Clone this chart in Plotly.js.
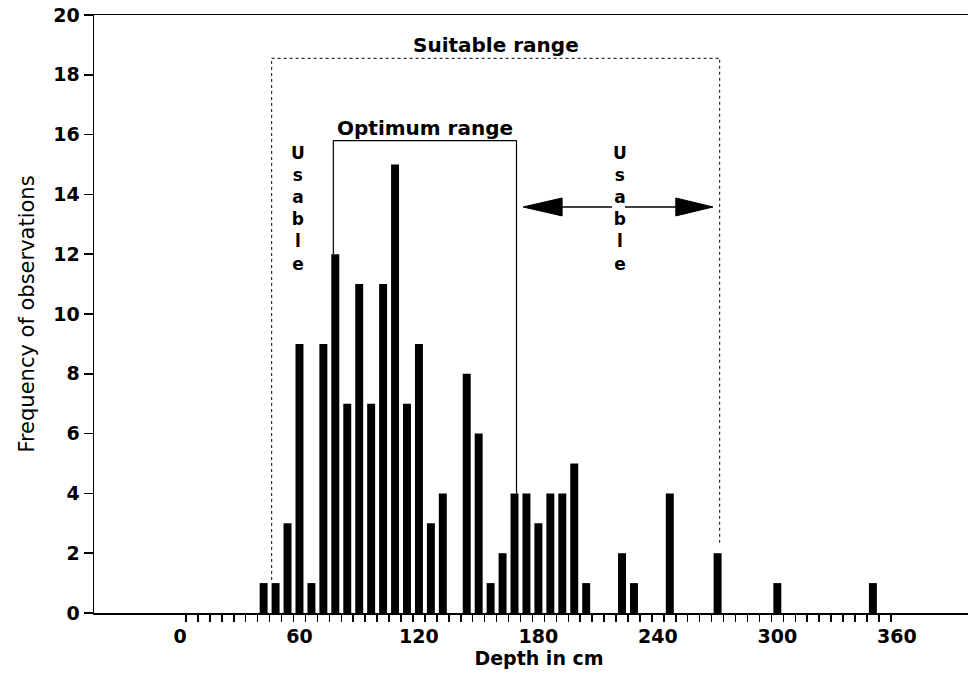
<!DOCTYPE html>
<html>
<head>
<meta charset="utf-8">
<script src="https://cdn.plot.ly/plotly-3.0.1.min.js"></script>
<style>
  html, body { margin: 0; padding: 0; background: #fff; overflow: hidden; }
  #chart { width: 984px; height: 673px; }
</style>
</head>
<body>
<div id="chart"></div>
<script>
// ---- Data ----
const depthCm = [42, 48, 54, 60, 66, 72, 78, 84, 90, 96, 102, 108, 114, 120, 126, 132,
                 144, 150, 156, 162, 168, 174, 180, 186, 192, 198, 204,
                 222, 228, 246, 270, 300, 348];
const frequency = [1, 1, 3, 9, 1, 9, 12, 7, 11, 7, 11, 15, 7, 9, 3, 4,
                   8, 6, 1, 2, 4, 4, 3, 4, 4, 5, 1,
                   2, 1, 4, 2, 1, 1];
const xTickVals = [0, 60, 120, 180, 240, 300, 360];
const xTickText = ['0', '60', '120', '180', '240', '300', '360'];
const yTickVals = [0, 2, 4, 6, 8, 10, 12, 14, 16, 18, 20];

// Range annotations (depths in cm, heights in frequency units)
const suitableRange = [46, 271];
const optimumRange = [77, 169];
const suitableLabel = 'Suitable range';
const optimumLabel = 'Optimum range';
const usableLabel = 'Usable';

// ---- Layout helpers ----
const minorTickVals = [];
for (let v = 3; v <= 357; v += 6) minorTickVals.push(v);

const FONT = 'DejaVu Sans';
const boldFont = (size) => ({family: FONT, size: size, color: '#000', weight: 'bold'});

const SUIT_TOP = 18.55, OPT_TOP = 15.8;
const ARROW_Y = 13.58, HEAD_H = 0.3;
const leftArrow = {tip: 172.3, base: 191.9, tail: 217};
const rightArrow = {tail: 223.5, base: 249, tip: 267.7};

const trace = {
  type: 'bar',
  x: depthCm,
  y: frequency,
  marker: {color: '#000', line: {width: 0}},
  hoverinfo: 'x+y'
};

const dotted = {color: '#333', width: 1.2, dash: 'dot'};
const solid = {color: '#000', width: 1.2};
const shapes = [
  // Suitable range bracket (dotted)
  {type: 'line', xref: 'x', yref: 'y', x0: suitableRange[0], x1: suitableRange[0], y0: 1.1, y1: SUIT_TOP, line: dotted},
  {type: 'line', xref: 'x', yref: 'y', x0: suitableRange[1], x1: suitableRange[1], y0: 2.35, y1: SUIT_TOP, line: dotted},
  {type: 'line', xref: 'x', yref: 'y', x0: suitableRange[0], x1: suitableRange[1], y0: SUIT_TOP, y1: SUIT_TOP, line: dotted},
  // Optimum range bracket (solid)
  {type: 'line', xref: 'x', yref: 'y', x0: optimumRange[0], x1: optimumRange[0], y0: 12, y1: OPT_TOP, line: solid},
  {type: 'line', xref: 'x', yref: 'y', x0: optimumRange[1], x1: optimumRange[1], y0: 4, y1: OPT_TOP, line: solid},
  {type: 'line', xref: 'x', yref: 'y', x0: optimumRange[0], x1: optimumRange[1], y0: OPT_TOP, y1: OPT_TOP, line: solid},
  // Usable arrows
  {type: 'line', xref: 'x', yref: 'y', x0: leftArrow.base, x1: leftArrow.tail, y0: ARROW_Y, y1: ARROW_Y, line: {color: '#000', width: 1.5}},
  {type: 'path', xref: 'x', yref: 'y',
   path: `M ${leftArrow.tip},${ARROW_Y} L ${leftArrow.base},${ARROW_Y + HEAD_H} L ${leftArrow.base},${ARROW_Y - HEAD_H} Z`,
   fillcolor: '#000', line: {color: '#000', width: 1}},
  {type: 'line', xref: 'x', yref: 'y', x0: rightArrow.tail, x1: rightArrow.base, y0: ARROW_Y, y1: ARROW_Y, line: {color: '#000', width: 1.5}},
  {type: 'path', xref: 'x', yref: 'y',
   path: `M ${rightArrow.tip},${ARROW_Y} L ${rightArrow.base},${ARROW_Y + HEAD_H} L ${rightArrow.base},${ARROW_Y - HEAD_H} Z`,
   fillcolor: '#000', line: {color: '#000', width: 1}}
];

const stacked = (word) => word.split('').join('<br>');

const annotations = [
  {xref: 'x', yref: 'y', x: (suitableRange[0] + suitableRange[1]) / 2, y: 19.0, text: suitableLabel,
   showarrow: false, font: boldFont(20), xanchor: 'center', yanchor: 'middle'},
  {xref: 'x', yref: 'y', x: (optimumRange[0] + optimumRange[1]) / 2, y: 16.23, text: optimumLabel,
   showarrow: false, font: boldFont(20), xanchor: 'center', yanchor: 'middle'},
  {xref: 'x', yref: 'y', x: 59.5, y: 15.8, text: stacked(usableLabel),
   showarrow: false, font: boldFont(17), xanchor: 'center', yanchor: 'top'},
  {xref: 'x', yref: 'y', x: 221, y: 15.8, text: stacked(usableLabel),
   showarrow: false, font: boldFont(17), xanchor: 'center', yanchor: 'top'}
];

const layout = {
  width: 984,
  height: 673,
  margin: {l: 94, r: 0, t: 15, b: 60, pad: 0},
  paper_bgcolor: '#fff',
  plot_bgcolor: '#fff',
  bargap: 1 / 3,
  showlegend: false,
  xaxis: {
    range: [-43.2, 403.8],
    showline: true, linecolor: '#000', linewidth: 1.5, mirror: true,
    showgrid: false, zeroline: false,
    tickmode: 'array', tickvals: xTickVals, ticktext: xTickText,
    ticks: 'outside', ticklen: 6, tickcolor: 'rgba(0,0,0,0)',
    tickfont: boldFont(19),
    minor: {tickmode: 'array', tickvals: minorTickVals, ticks: 'outside', ticklen: 7,
            tickwidth: 1.5, tickcolor: '#000', showgrid: false},
    title: {text: 'Depth in cm', font: boldFont(19), standoff: 4}
  },
  yaxis: {
    range: [0, 20],
    showline: true, linecolor: '#000', linewidth: 1.5, mirror: false,
    showgrid: false, zeroline: false,
    tickmode: 'array', tickvals: yTickVals,
    ticks: 'outside', ticklen: 9, tickwidth: 1.5, tickcolor: '#000',
    tickfont: boldFont(19),
    title: {text: 'Frequency of observations', font: {family: FONT, size: 21, color: '#000'}, standoff: 13}
  },
  shapes: shapes,
  annotations: annotations
};

Plotly.newPlot('chart', [trace], layout, {displayModeBar: false, staticPlot: true});
</script>
</body>
</html>
